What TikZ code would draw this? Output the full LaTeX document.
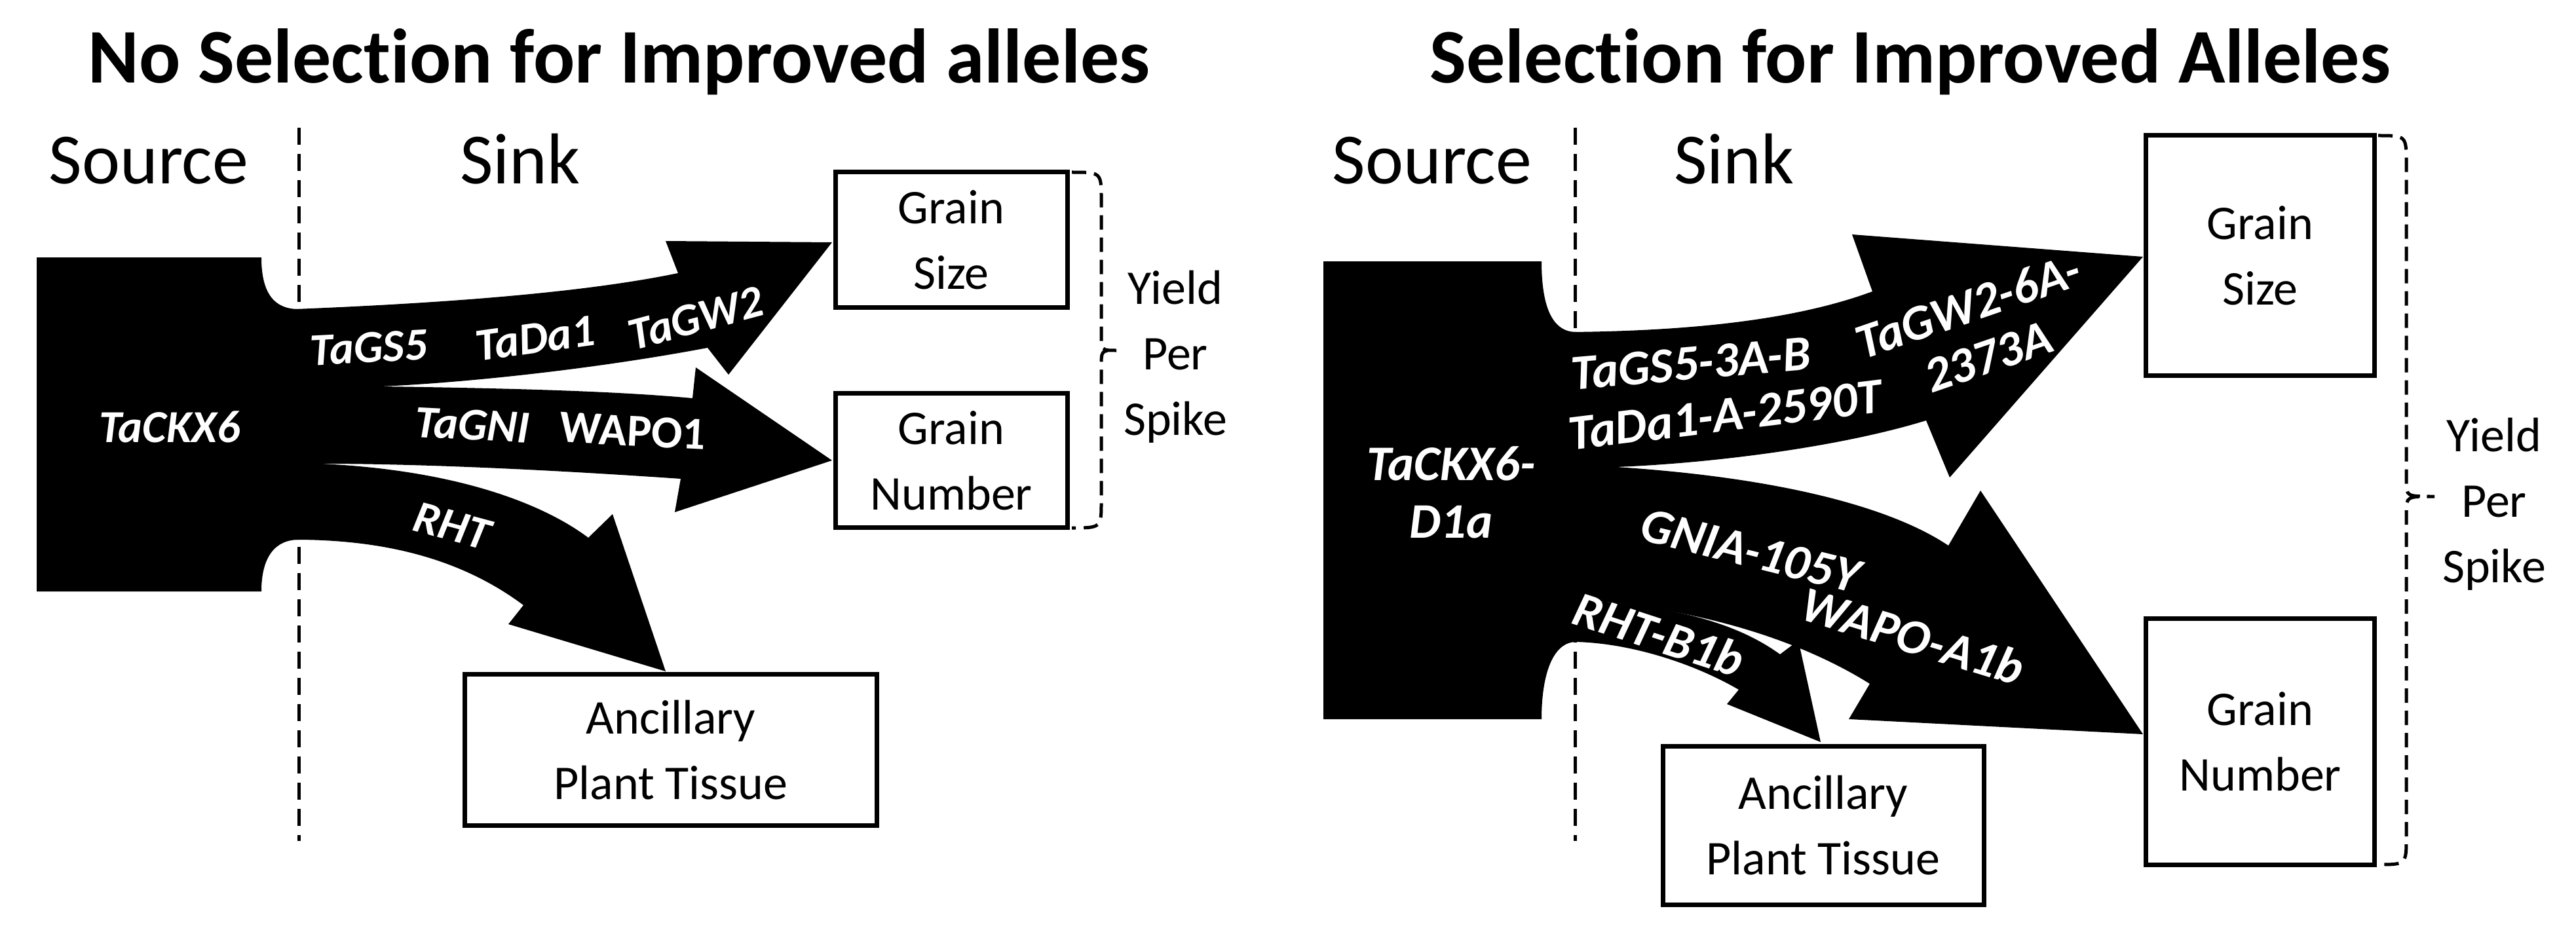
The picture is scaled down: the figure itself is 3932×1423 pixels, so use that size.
\documentclass[tikz,border=0pt]{standalone}
\usepackage{fontspec}
\setmainfont{Carlito}[Ligatures={NoCommon}]
\begin{document}
\begin{tikzpicture}[x=1pt,y=-1pt,
  title/.style={font=\fontsize{118}{130}\selectfont\bfseries, anchor=base},
  head/.style={font=\fontsize{110}{120}\selectfont, anchor=base},
  box/.style={draw, line width=7pt, inner sep=0pt, align=center, font=\fontsize{74}{100}\selectfont},
  lab/.style={text=white, font=\fontsize{70}{88}\selectfont\bfseries\itshape},
  labr/.style={text=white, font=\fontsize{76}{88}\selectfont\bfseries\itshape},
  yld/.style={align=center, font=\fontsize{74}{100}\selectfont},
  sep/.style={dashed, line width=5pt, dash pattern=on 26pt off 14pt},
  brace/.style={dashed, line width=5pt, dash pattern=on 22pt off 12pt},
  flow/.style={fill=black, draw=none}]
\useasboundingbox (0,0) rectangle (3932,1423);
% ---------- left panel ----------
\node[title] (t1) at (945,127) {No Selection for Improved alleles};
\node[head] (src1) at (227,281) {Source};
\node[head] (snk1) at (794,281) {Sink};
\draw[sep] (456,195) -- (456,1284);
\fill[flow] (56,393) -- (399,393) .. controls (399,450) and (420,472) .. (456,472) -- (456,824) .. controls (420,824) and (399,850) .. (399,903) -- (56,903) -- cycle;
\fill[flow] (450,472) .. controls (700,462) and (900,445) .. (1035,417) -- (1016,368) -- (1270,370) -- (1112,572) -- (1080,531) .. controls (900,565) and (700,585) .. (581,590) -- (450,600) -- cycle;
\fill[flow] (450,585) -- (581,590) .. controls (800,593) and (950,598) .. (1057,608) -- (1062,561) -- (1270,703) -- (1030,782) -- (1039,731) .. controls (850,718) and (650,708) .. (490,708) -- (450,708) -- cycle;
\fill[flow] (450,700) -- (490,708) .. controls (700,718) and (830,770) .. (898,821) -- (935,785) -- (1016,1025) -- (776,953) -- (799,924) .. controls (700,850) and (580,824) .. (450,824) -- cycle;
\node[lab] (ck1) at (259,652) {TaCKX6};
\node[lab, rotate=3] (gs1) at (563,531) {TaGS5};
\node[lab, rotate=8] (da1) at (817,517) {TaDa1};
\node[lab, rotate=15] (gw1) at (1062,486) {TaGW2};
\node[lab, rotate=-3] (gn1) at (721,649) {TaGNI};
\node[lab, font=\fontsize{70}{88}\selectfont\bfseries, rotate=-3] (wa1) at (966,658) {WAPO1};
\node[lab, rotate=-15] (rh1) at (690,803) {RHT};
\node[box, minimum width=354pt, minimum height=207pt] (gsz1) at (1452,366) {Grain\\Size};
\node[box, minimum width=354pt, minimum height=205pt] (gnm1) at (1452,703) {Grain\\Number};
\node[box, minimum width=629pt, minimum height=231pt] (anc1) at (1024,1145) {Ancillary\\Plant Tissue};
\draw[brace] (1636,263) .. controls (1681,263) .. (1681,305) -- (1681,510) .. controls (1681,535) .. (1704,535) .. controls (1681,535) .. (1681,560) -- (1681,765) .. controls (1681,806) .. (1636,806);
\node[yld] (y1) at (1794,545) {Yield\\Per\\Spike};
% ---------- right panel ----------
\node[title] (t2) at (2916,127) {Selection for Improved Alleles};
\node[head] (src2) at (2186,281) {Source};
\node[head] (snk2) at (2647,281) {Sink};
\draw[sep] (2404,195) -- (2404,1284);
\fill[flow] (2020,399) -- (2353,399) .. controls (2353,470) and (2370,507) .. (2406,507) -- (2406,980) .. controls (2370,980) and (2353,1030) .. (2353,1098) -- (2020,1098) -- cycle;
\fill[flow] (2398,507) .. controls (2600,505) and (2750,485) .. (2858,445) -- (2827,358) -- (3271,392) -- (2976,729) -- (2940,642) .. controls (2800,685) and (2600,708) .. (2467,713) -- (2398,713) -- cycle;
\fill[flow] (2398,705) -- (2467,713) .. controls (2700,728) and (2880,770) .. (2974,833) -- (3023,749) -- (3271,1121) -- (2822,1098) -- (2854,1044) .. controls (2760,985) and (2620,935) .. (2440,918) -- (2398,918) -- cycle;
\fill[flow] (2398,910) -- (2440,918) .. controls (2580,930) and (2660,958) .. (2717,999) -- (2745,978) -- (2779,1133) -- (2636,1075) -- (2654,1053) .. controls (2580,1010) and (2480,980) .. (2398,980) -- cycle;
\node[labr, align=center] (ck2) at (2215,752) {TaCKX6-\\D1a};
\node[labr, rotate=5] (gs2) at (2581,555) {TaGS5-3A-B};
\node[labr, rotate=7] (da2) at (2633,634) {TaDa1-A-2590T};
\node[labr, rotate=19] (gw2) at (3004,467) {TaGW2-6A-};
\node[labr, rotate=19] (gw2b) at (3035,545) {2373A};
\node[labr, rotate=-14] (gn2) at (2672,841) {GNIA-105Y};
\node[labr, rotate=-17] (wa2) at (2920,971) {WAPO-A1b};
\node[labr, rotate=-18] (rh2) at (2532,968) {RHT-B1b};
\node[box, minimum width=349pt, minimum height=366pt] (gsz2) at (3450,390) {Grain\\Size};
\node[box, minimum width=349pt, minimum height=376pt] (gnm2) at (3450,1132) {Grain\\Number};
\node[box, minimum width=490pt, minimum height=242pt] (anc2) at (2783,1260) {Ancillary\\Plant Tissue};
\draw[brace] (3630,207) .. controls (3673,207) .. (3673,250) -- (3673,735) .. controls (3673,758) .. (3716,758) .. controls (3673,758) .. (3673,782) -- (3673,1277) .. controls (3673,1320) .. (3630,1320);
\node[yld] (y2) at (3807,770) {Yield\\Per\\Spike};
\end{tikzpicture}
\end{document}
